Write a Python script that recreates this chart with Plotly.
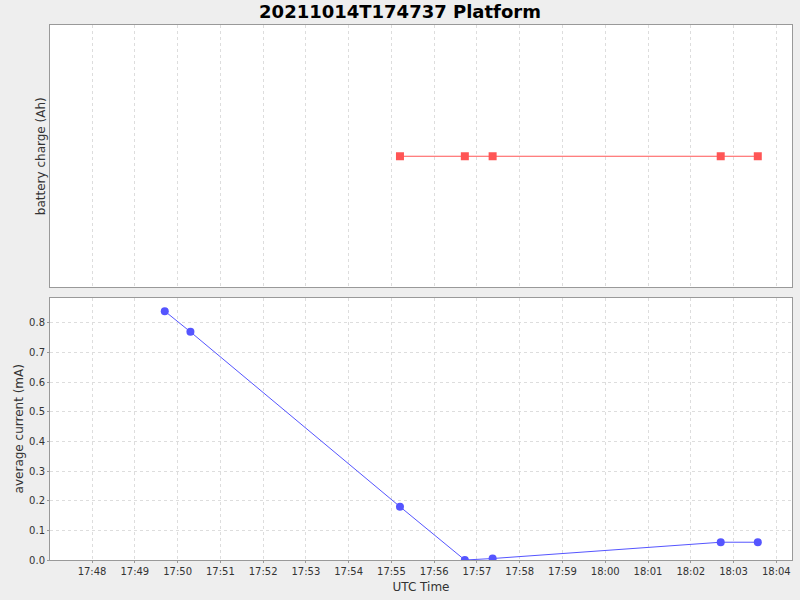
import plotly.graph_objects as go
from plotly.subplots import make_subplots

# === Data ===
current_times = [
    "2021-10-14 17:49:42", "2021-10-14 17:50:18", "2021-10-14 17:55:12",
    "2021-10-14 17:56:43", "2021-10-14 17:57:22", "2021-10-14 18:02:42",
    "2021-10-14 18:03:34",
]
current_ma = [0.84, 0.77, 0.18, 0.0, 0.005, 0.06, 0.06]

charge_times = [
    "2021-10-14 17:55:12", "2021-10-14 17:56:43", "2021-10-14 17:57:22",
    "2021-10-14 18:02:42", "2021-10-14 18:03:34",
]
charge_ah = [0.0, 0.0, 0.0, 0.0, 0.0]

x_range = ["2021-10-14 17:47:01", "2021-10-14 18:04:22"]

font_family = "DejaVu Sans"
grid_col = "#dddddd"
axis_col = "#999999"

fig = make_subplots(rows=2, cols=1, shared_xaxes=True, vertical_spacing=0.0187,
                    row_heights=[0.5, 0.5])

fig.add_trace(go.Scatter(
    x=charge_times, y=charge_ah, mode="lines+markers",
    line=dict(color="#ff5555", width=1),
    marker=dict(symbol="square", size=8, color="#ff5555"),
    showlegend=False,
), row=1, col=1)

fig.add_trace(go.Scatter(
    x=current_times, y=current_ma, mode="lines+markers",
    line=dict(color="#5555ff", width=1),
    marker=dict(symbol="circle", size=8, color="#5555ff"),
    showlegend=False,
), row=2, col=1)

axis_common = dict(
    showline=True, linecolor=axis_col, linewidth=1, mirror=True,
    showgrid=True, gridcolor=grid_col, griddash="3px,3px", gridwidth=1,
    zeroline=False, automargin=False,
)

fig.update_xaxes(
    range=x_range, type="date", dtick=60000, tickformat="%H:%M",
    tickfont=dict(size=10, color="#333333"),
    ticks="outside", ticklen=2, tickcolor=axis_col,
    **axis_common,
)
fig.update_xaxes(showticklabels=False, ticks="", row=1, col=1)
fig.update_xaxes(title=dict(text="UTC Time", font=dict(size=12, color="#333333"),
                            standoff=6), row=2, col=1)

fig.update_yaxes(
    range=[-1, 1], showticklabels=False, ticks="", showgrid=False,
    showline=True, linecolor=axis_col, linewidth=1, mirror=True, zeroline=False,
    automargin=False,
    title=dict(text="battery charge (Ah)", font=dict(size=12, color="#333333"),
               standoff=0),
    row=1, col=1,
)
fig.update_yaxes(
    range=[0, 0.886], dtick=0.1, tickformat=".1f",
    tickfont=dict(size=10, color="#333333"),
    ticks="outside", ticklen=2, tickcolor=axis_col,
    title=dict(text="average current (mA)", font=dict(size=12, color="#333333"),
               standoff=2),
    row=2, col=1, **axis_common,
)

fig.update_layout(
    title=dict(text="<b>20211014T174737 Platform</b>", x=0.5, xanchor="center",
               y=0.98, yanchor="middle", automargin=False,
               font=dict(size=18, color="#000000")),
    width=800, height=600,
    margin=dict(l=50, r=8, t=25, b=40),
    paper_bgcolor="#eeeeee",
    plot_bgcolor="#ffffff",
    font=dict(family=font_family),
)

# drop the default 8px body margin so the figure sits at the page origin
fig.write_html("out.html", config={"displayModeBar": False}, post_script=(
    "document.body.style.margin='0';"
    "document.body.style.background='#eeeeee';"
))
